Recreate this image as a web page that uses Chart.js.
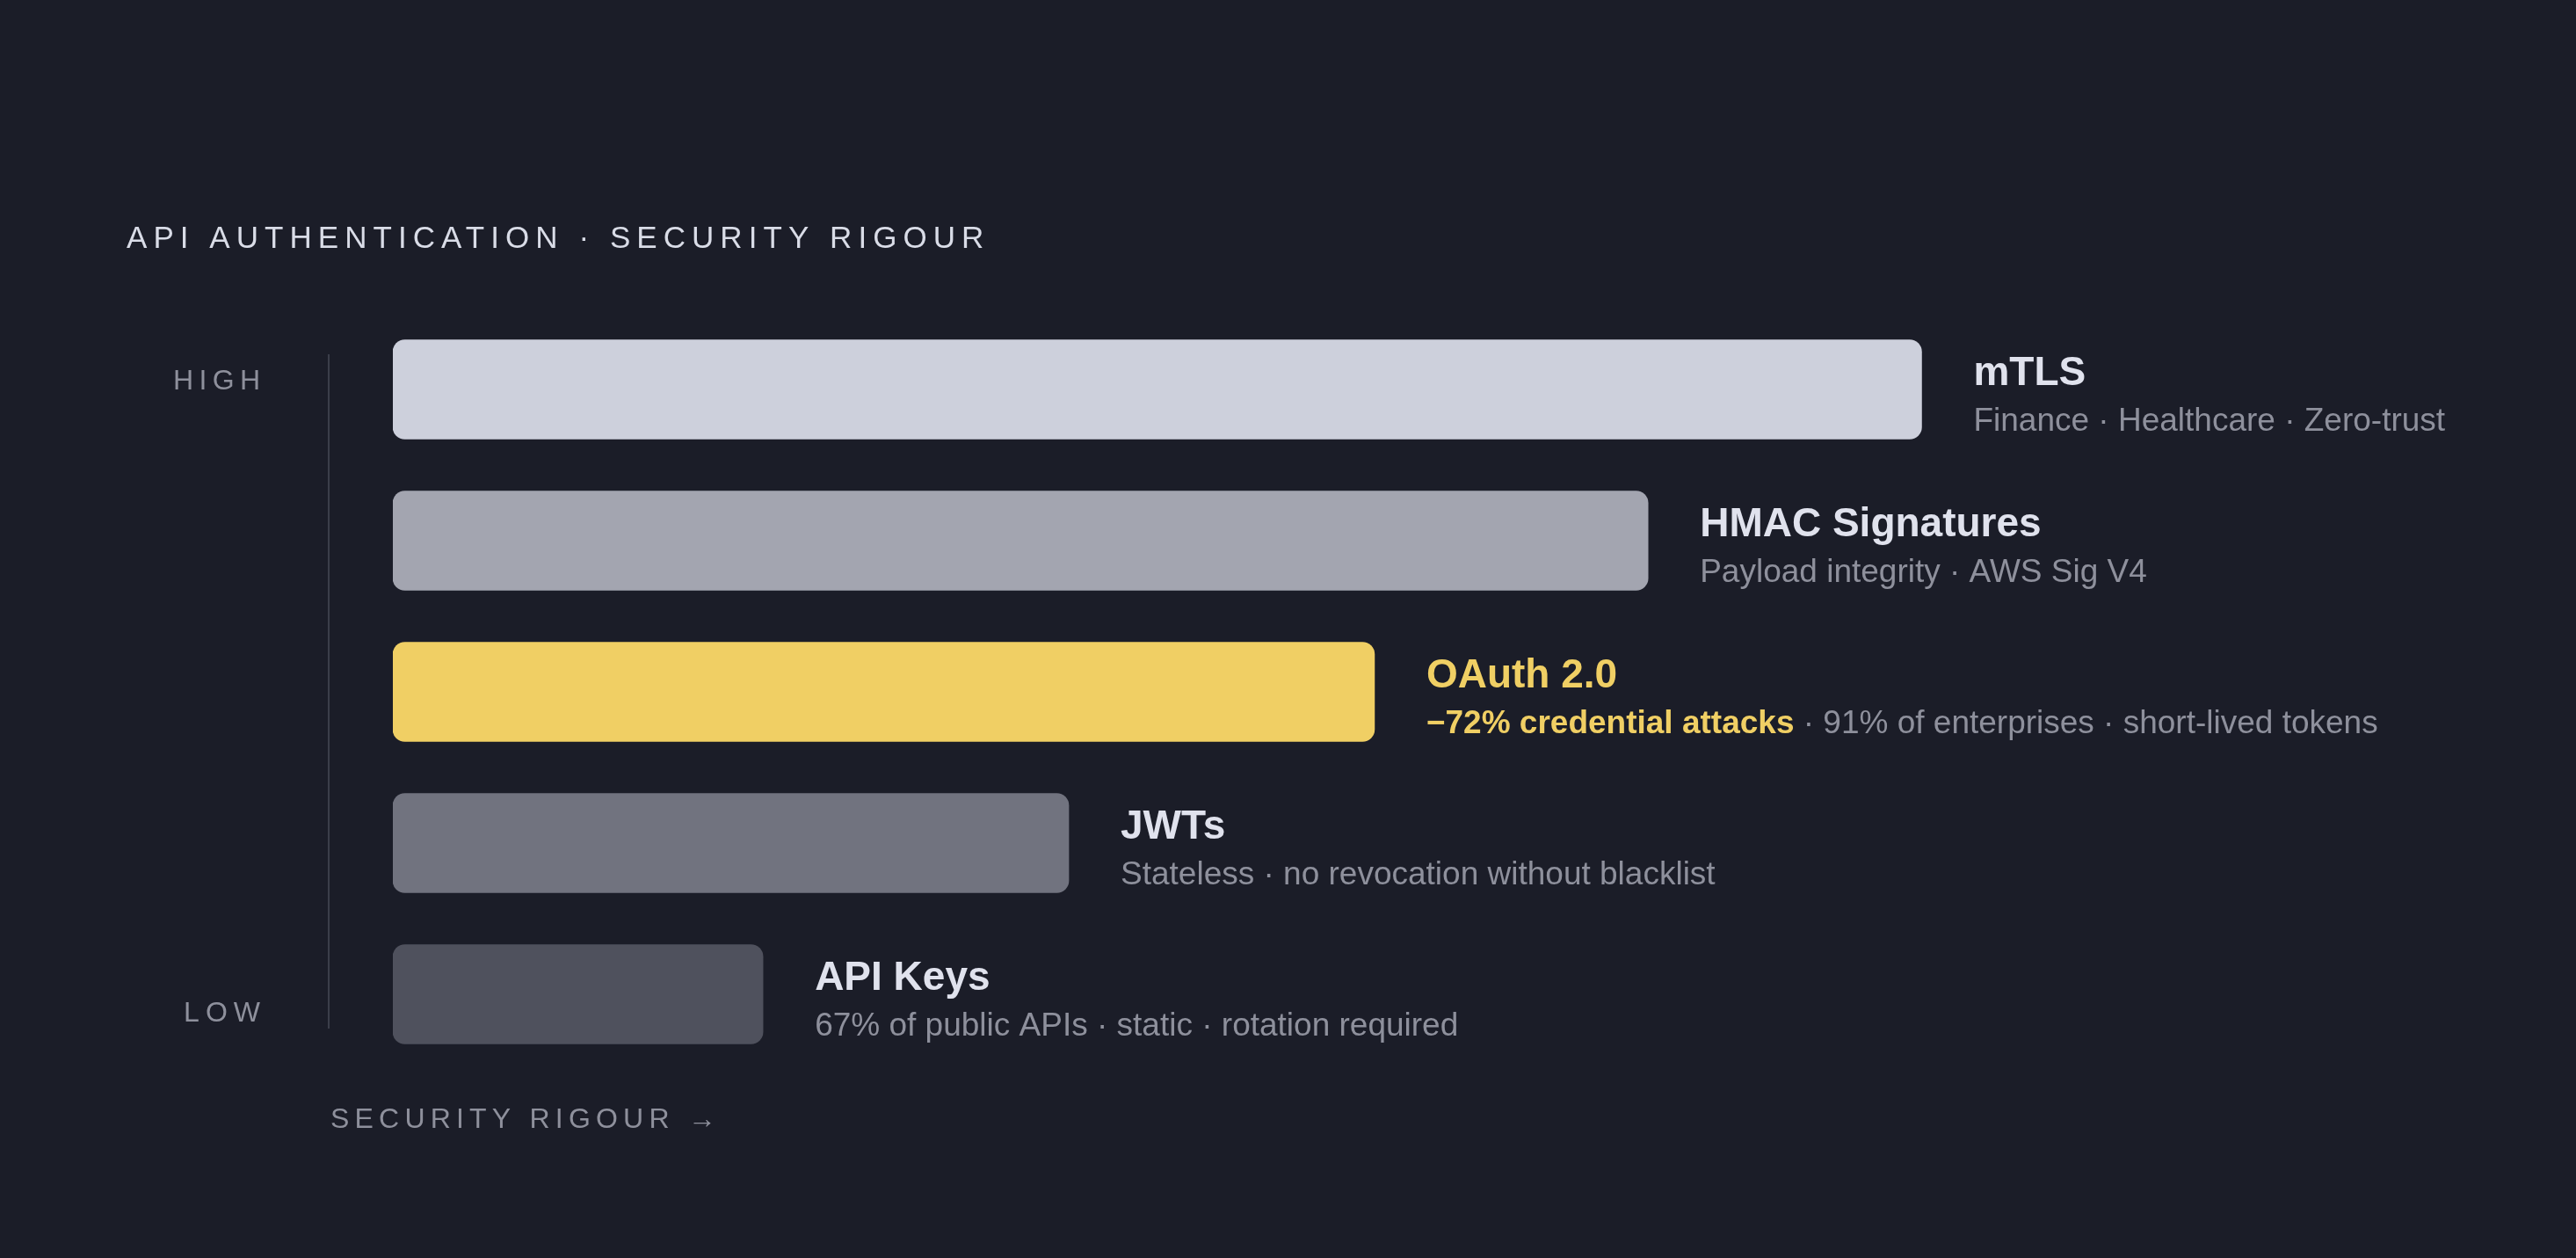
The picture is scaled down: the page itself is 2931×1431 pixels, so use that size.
<!DOCTYPE html>
<html>
<head>
<meta charset="utf-8">
<title>API authentication · security rigour</title>
<script src="https://cdn.jsdelivr.net/npm/chart.js@4.4.1/dist/chart.umd.min.js"></script>
<style>
  html, body { margin: 0; padding: 0; background: #1b1d28; overflow: hidden; }
  #wrap { width: 2931px; height: 1431px; position: relative; }
</style>
</head>
<body>
<div id="wrap"><canvas id="authChart"></canvas></div>
<script>
// ---- data ----
const methods = ['mTLS', 'HMAC Signatures', 'OAuth 2.0', 'JWTs', 'API Keys'];
const rigour = [95, 78, 61, 42, 23];               // relative security rigour, 0-100
const highlights = ['', '', '\u221272% credential attacks', '', ''];
const notes = [
    'Finance \u00b7 Healthcare \u00b7 Zero-trust',
    'Payload integrity \u00b7 AWS Sig V4',
    '91% of enterprises \u00b7 short-lived tokens',
    'Stateless \u00b7 no revocation without blacklist',
    '67% of public APIs \u00b7 static \u00b7 rotation required'
];
const axisEnds = ['HIGH', 'LOW'];
const chartTitle = 'API AUTHENTICATION \u00b7 SECURITY RIGOUR';
const axisTitle = 'SECURITY RIGOUR \u2192';

// ---- style ----
const barColors = ['#cdd0dc', '#a3a5b0', '#f0cf64', '#71737f', '#4f515d'];
const ACCENT = '#f0cf64';
const NAME_COLOR = '#e0e2ed';
const MUTED = '#8e909c';
const FONT = '"Liberation Sans", Arial, Helvetica, sans-serif';

function spacedText(ctx, text, x, y, spacing, align) {
    ctx.save();
    ctx.letterSpacing = spacing + 'px';
    let w = ctx.measureText(text).width - spacing;
    let sx = align === 'right' ? x - w : x;
    ctx.textAlign = 'left';
    ctx.fillText(text, sx, y);
    ctx.restore();
}

// draws the title, the HIGH/LOW rail and the bar annotations
const decorPlugin = {
    id: 'decor',
    afterDatasetsDraw(chart) {
        const ctx = chart.ctx;
        const meta = chart.getDatasetMeta(0);
        ctx.save();
        ctx.textBaseline = 'alphabetic';

        // title
        ctx.fillStyle = '#d9dce7';
        ctx.font = '35px ' + FONT;
        spacedText(ctx, chartTitle, 144, 282, 7.05, 'left');

        // vertical rail
        ctx.strokeStyle = '#3b3e4a';
        ctx.lineWidth = 2;
        ctx.beginPath();
        ctx.moveTo(374, 403);
        ctx.lineTo(374, 1170);
        ctx.stroke();

        ctx.fillStyle = MUTED;
        ctx.font = '32px ' + FONT;
        spacedText(ctx, axisEnds[0], 296, 443, 6.3, 'right');
        spacedText(ctx, axisEnds[1], 296, 1162, 7, 'right');
        spacedText(ctx, axisTitle, 376, 1283, 6.2, 'left');

        // labels next to each bar
        meta.data.forEach((bar, i) => {
            const x = bar.x + 59;
            const y = bar.y;
            ctx.textAlign = 'left';
            ctx.font = 'bold 46px ' + FONT;
            ctx.fillStyle = highlights[i] ? ACCENT : NAME_COLOR;
            ctx.fillText(methods[i], x, y - 5);

            let sx = x;
            if (highlights[i]) {
                ctx.font = 'bold 37px ' + FONT;
                ctx.fillStyle = ACCENT;
                ctx.fillText(highlights[i], sx, y + 47);
                sx += ctx.measureText(highlights[i] + ' ').width;
                ctx.font = '37px ' + FONT;
                ctx.fillStyle = MUTED;
                ctx.fillText('\u00b7 ' + notes[i], sx, y + 47);
            } else {
                ctx.font = '37px ' + FONT;
                ctx.fillStyle = MUTED;
                ctx.fillText(notes[i], sx, y + 47);
            }
        });
        ctx.restore();
    }
};

new Chart(document.getElementById('authChart'), {
    type: 'bar',
    data: {
        labels: methods,
        datasets: [{
            data: rigour,
            backgroundColor: barColors,
            borderRadius: 14,
            borderSkipped: false,
            barThickness: 113
        }]
    },
    options: {
        indexAxis: 'y',
        responsive: true,
        maintainAspectRatio: false,
        animation: false,
        layout: { padding: { left: 447, right: 653, top: 357, bottom: 214 } },
        plugins: {
            legend: { display: false },
            tooltip: { enabled: false },
            title: { display: false }
        },
        scales: {
            x: { display: false, min: 0, max: 100 },
            y: { display: false }
        }
    },
    plugins: [decorPlugin]
});
</script>
</body>
</html>
